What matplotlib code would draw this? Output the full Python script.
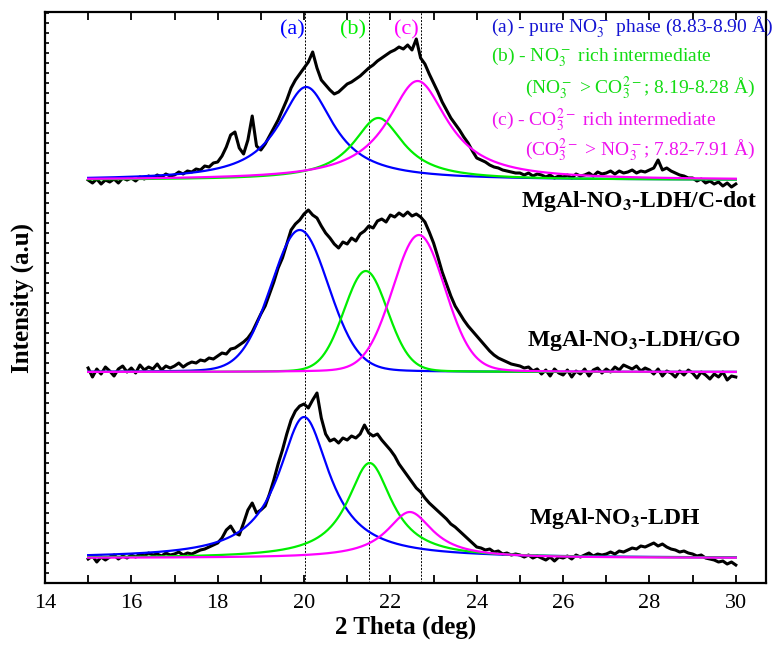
import numpy as np
import matplotlib
matplotlib.use('Agg')
from matplotlib import pyplot as plt
from matplotlib.ticker import MultipleLocator

plt.rcParams['font.family'] = ['Liberation Serif', 'DejaVu Serif']
plt.rcParams['mathtext.fontset'] = 'stix'

# 2 theta grid of the scans (deg)
theta = np.linspace(15.0, 30.0, 151)

# measured scans, intensity above each baseline (a.u.)
scan_cdot = [0, -3, 1, -4, 0, -2, 1, -3, 2, 0,
             2, -1, 3, 1, 4, 2, 5, 3, 6, 4,
             5, 8, 6, 9, 8, 11, 10, 14, 13, 17,
             18, 24, 33, 45, 48, 32, 26, 40, 64, 34,
             30, 36, 44, 52, 60, 70, 80, 92, 100, 106,
             112, 118, 128, 112, 100, 95, 90, 86, 88, 92,
             96, 98, 101, 104, 108, 112, 115, 119, 122, 125,
             128, 130, 133, 131, 135, 130, 141, 122, 116, 106,
             97, 88, 78, 70, 62, 56, 50, 43, 37, 29,
             22, 20, 18, 15, 13, 12, 10, 9, 8, 7,
             7, 5, 7, 4, 6, 5, 3, 5, 2, 4,
             3, 5, 2, 6, 4, 5, 7, 4, 8, 6,
             7, 9, 6, 9, 7, 8, 10, 7, 9, 8,
             10, 12, 20, 10, 12, 9, 7, 5, 4, 2,
             2, -1, 1, -3, -1, -4, -2, -6, -3, -7,
             -4]
scan_go = [4, -5, 3, -2, 5, 1, -4, 3, 6, 0,
           4, -1, 7, 2, 5, 3, 8, 2, 6, 4,
           6, 9, 5, 8, 10, 9, 12, 11, 14, 13,
           16, 19, 18, 23, 24, 27, 30, 34, 40, 49,
           58, 66, 78, 90, 104, 114, 128, 142, 148, 152,
           158, 162, 157, 154, 146, 139, 134, 128, 124, 130,
           128, 134, 131, 138, 141, 146, 144, 151, 153, 150,
           157, 155, 159, 156, 160, 156, 158, 155, 150, 140,
           129, 115, 100, 88, 76, 66, 59, 52, 46, 41,
           36, 31, 26, 21, 17, 14, 12, 10, 8, 7,
           6, 4, 5, 1, 3, -2, 2, -4, 3, -1,
           -3, 2, -5, 1, -2, 3, -4, 2, 4, -1,
           3, 0, 5, 2, 7, 5, 3, 6, 1, 4,
           2, -2, 3, -4, 1, -1, -5, 1, -3, 2,
           -1, -6, 0, -3, -7, -2, -5, 0, -8, -4,
           -5]
scan_ldh = [-1, 2, -4, 1, -2, 1, 3, -1, 2, 0,
            3, 1, 4, 2, 5, 3, 4, 2, 5, 3,
            4, 6, 3, 5, 4, 6, 8, 9, 11, 13,
            15, 20, 28, 32, 25, 23, 35, 48, 55, 45,
            48, 52, 64, 78, 94, 108, 124, 138, 147, 152,
            154, 150, 158, 165, 140, 124, 117, 119, 115, 120,
            118, 122, 120, 124, 133, 125, 122, 124, 118, 113,
            108, 102, 94, 88, 82, 76, 70, 66, 60, 55,
            51, 47, 43, 39, 34, 31, 27, 23, 19, 15,
            11, 10, 8, 9, 6, 7, 4, 5, 3, 4,
            3, 1, 3, 0, 2, 0, -2, 1, -3, 1,
            0, 2, -1, 3, 1, 3, 5, 2, 4, 3,
            4, 6, 4, 7, 6, 8, 10, 9, 12, 11,
            13, 15, 12, 14, 11, 9, 8, 6, 7, 5,
            4, 2, 3, 0, -1, -2, -4, -3, -6, -4,
            -7]

# baselines of the stacked scans
offsets = [403, 211, 25]
scans = [scan_cdot, scan_go, scan_ldh]
names = [r'MgAl-NO$_\mathbf{3}$-LDH/C-dot', r'MgAl-NO$_\mathbf{3}$-LDH/GO', r'MgAl-NO$_\mathbf{3}$-LDH']
name_pos = [(25.02, 382), (25.16, 243), (25.21, 65)]

# fitted peaks: centre (deg), FWHM (deg), height, lorentz fraction
# order: (a) blue, (b) green, (c) magenta
fit_centres = [[20.05, 21.72, 22.63], [19.90, 21.43, 22.66], [20.00, 21.52, 22.45]]
fit_fwhm = [[1.55, 1.42, 1.70], [1.58, 1.20, 1.44], [1.44, 1.26, 1.30]]
fit_heights = [[93, 62, 99], [142, 101, 137], [141, 95, 46]]
fit_eta = [1.0, 0.1, 1.0]
fit_colors = ['#0000ff', '#00ee00', '#ff00ff']

phase_lines = [20.03, 21.5, 22.7]
phase_tags = ['(a)', '(b)', '(c)']
tag_x = [19.74, 21.14, 22.37]

legend_lines = [r'(a) - pure NO$_3^-$ phase (8.83-8.90 Å)',
                r'(b) - NO$_3^-$ rich intermediate',
                r'(NO$_3^-$ > CO$_3^{2-}$; 8.19-8.28 Å)',
                r'(c) - CO$_3^{2-}$ rich intermediate',
                r'(CO$_3^{2-}$ > NO$_3^-$; 7.82-7.91 Å)']
legend_colors = ['#1414d2', '#14dc14', '#14dc14', '#ee14ee', '#ee14ee']
legend_x = [24.33, 24.33, 25.12, 24.33, 25.12]
legend_y = [556, 526, 495, 463, 433]


def pvoigt(x, c, w, h, eta):
    g = np.exp(-4 * np.log(2) * ((x - c) / w) ** 2)
    l = 1 / (1 + 4 * ((x - c) / w) ** 2)
    return h * (eta * l + (1 - eta) * g)


fig = plt.figure(figsize=(7.74, 6.45), dpi=100)
ax = fig.add_axes([0.0581, 0.0961, 0.9316, 0.8853])

xf = np.linspace(15, 30, 601)
for i in range(3):
    ax.plot(theta, np.array(scans[i]) + offsets[i], color='black', lw=2.2, zorder=3)
    for j in range(3):
        yf = pvoigt(xf, fit_centres[i][j], fit_fwhm[i][j], fit_heights[i][j], fit_eta[i])
        ax.plot(xf, yf + offsets[i], color=fit_colors[j], lw=1.6, zorder=4 + j)
    ax.text(name_pos[i][0], name_pos[i][1], names[i], fontsize=17, fontweight='bold',
            ha='left', va='center')

for k in range(3):
    ax.axvline(phase_lines[k], color='black', lw=0.7, ls=(0, (2, 1.5)), zorder=2)
    ax.text(tag_x[k], 553, phase_tags[k], color=fit_colors[k], fontsize=16,
            ha='center', va='center')

for k in range(5):
    ax.text(legend_x[k], legend_y[k], legend_lines[k], color=legend_colors[k],
            fontsize=14, ha='left', va='center')

ax.set_xlim(14, 30.7)
ax.set_ylim(0, 571)
ax.xaxis.set_major_locator(MultipleLocator(2))
ax.xaxis.set_minor_locator(MultipleLocator(1))
ax.yaxis.set_major_locator(MultipleLocator(10))
ax.tick_params(axis='x', which='both', direction='in', length=6, width=1.3,
               top=True, labelsize=16, pad=8)
ax.tick_params(axis='y', which='both', direction='in', length=3, width=1.2,
               labelleft=False)
for s in ax.spines.values():
    s.set_linewidth(1.6)

ax.set_xlabel('2 Theta (deg)', fontsize=18, fontweight='bold', labelpad=2)
ax.set_ylabel('Intensity (a.u)', fontsize=18, fontweight='bold', labelpad=8)

plt.savefig('out.png', dpi=100)
